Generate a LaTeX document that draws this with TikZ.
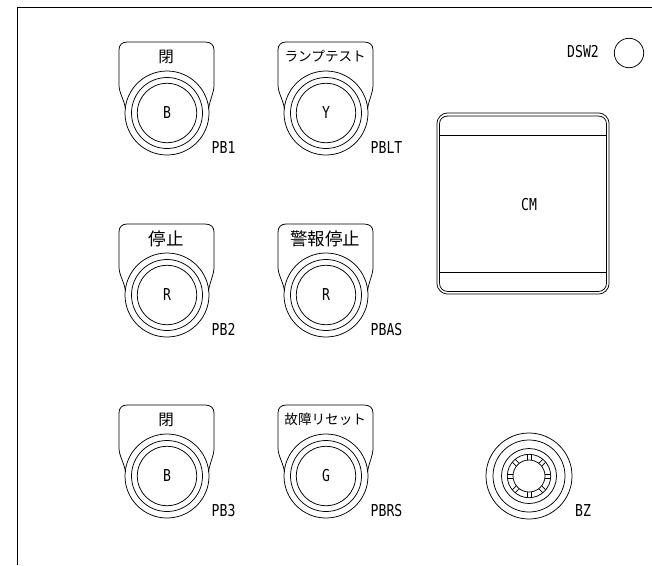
\documentclass[tikz,border=0pt]{standalone}
\usepackage{fontspec}
\setmainfont[FakeStretch=0.8]{DejaVu Sans Mono}
\newfontfamily\jpfont{Noto Sans CJK JP}
\newcommand{\lbl}{\fontsize{16.4}{17}\selectfont}
\newcommand{\jp}{\jpfont\fontsize{15.5}{16}\selectfont}
\newcommand{\jpbig}{\fontsize{17.5}{18}\selectfont}
\newcommand{\jpsmall}{\fontsize{13.6}{14}\selectfont}
\tikzset{
  ln/.style={line width=0.75pt,black},
  txt/.style={inner sep=0pt,font=\lbl,text=black},
  jptxt/.style={inner sep=0pt,font=\jp,text=black},
  tag/.style={inner sep=0pt,font=\lbl,text=black,anchor=west},
  pics/pushbutton/.style args={#1/#2/#3/#4}{code={
    \draw[ln] (-41.5,-4) .. controls (-43,-14) and (-48,-20) .. (-48,-28)
      -- (-48,-63) .. controls (-48,-68) and (-45,-71) .. (-40,-71)
      -- (38,-71) .. controls (44,-71) and (47,-68) .. (47,-63)
      -- (47,-28) .. controls (47,-20) and (43,-14) .. (41.5,-4);
    \draw[ln] (0,0) circle[radius=42];
    \draw[ln] (0,0) circle[radius=35.5];
    \draw[ln] (0,0) circle[radius=29.7];
    \node[jptxt] (#4-plate) at (-0.8,-56.5) {#1};
    \node[txt] (#4-colour) at (0,0) {#2};
    \node[tag] (#4-tag) at (44.5,34.5) {#3};
  }}
}
\begin{document}
\begin{tikzpicture}[x=1pt,y=-1pt]
\useasboundingbox (0,0) rectangle (652,565);
% panel edge
\draw[line width=1.1pt,black] (17.5,565) -- (17.5,7.5) -- (652,7.5);
% push buttons
\pic at (167,113) {pushbutton={閉/B/PB1/pba}};
\pic at (326,113) {pushbutton={\jpsmall ランプテスト/Y/PBLT/pbb}};
\pic at (167,295) {pushbutton={\jpbig 停止/R/PB2/pbc}};
\pic at (326,295) {pushbutton={\jpbig 警報停止/R/PBAS/pbd}};
\pic at (167,476) {pushbutton={閉/B/PB3/pbe}};
\pic at (326,476) {pushbutton={\jpsmall 故障リセット/G/PBRS/pbf}};
% DSW2
\node[txt] (dswtxt) at (583,52) {DSW2};
\draw[ln] (629,53) circle[radius=14.7];
% CM
\draw[ln] (447,113) -- (599,113) .. controls (604,113) and (609,118) .. (609,123)
  -- (609,284) .. controls (609,289) and (604,294) .. (599,294)
  -- (447,294) .. controls (442,294) and (437,289) .. (437,284)
  -- (437,123) .. controls (437,118) and (442,113) .. (447,113) -- cycle;
\draw[ln] (448,116) -- (598,116) .. controls (603,116) and (606.5,119) .. (606.5,124)
  -- (606.5,283) .. controls (606.5,288) and (603,291.5) .. (598,291.5)
  -- (448,291.5) .. controls (443,291.5) and (439.5,288) .. (439.5,283)
  -- (439.5,124) .. controls (439.5,119) and (443,116) .. (448,116) -- cycle;
\draw[ln] (439.5,135) -- (606.5,135);
\draw[ln] (439.5,272) -- (606.5,272);
\node[txt] (cmtxt) at (529,205) {CM};
% BZ
\begin{scope}[shift={(529,476)}]
  \foreach \r in {43,36,27.5,21.7,16} \draw[ln] (0,0) circle[radius=\r];
  \foreach \a in {0,45,...,315}
    \foreach \d in {-2,2}
      \draw[ln,rotate=\a] (16,\d) -- (21.5,\d);
\end{scope}
\node[txt] (bztxt) at (583,511) {BZ};
\end{tikzpicture}
\end{document}
